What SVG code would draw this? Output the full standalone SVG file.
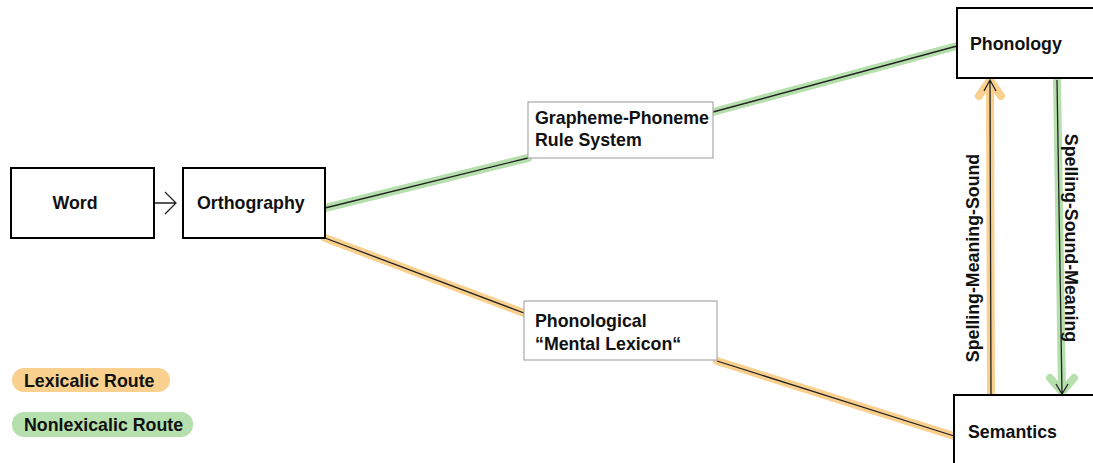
<svg xmlns="http://www.w3.org/2000/svg" width="1093" height="463" viewBox="0 0 1093 463">
<style>
.t{font-family:"Liberation Sans",Arial,sans-serif;font-weight:bold;font-size:17.8px;fill:#111}
.box{fill:#fff;stroke:#000;stroke-width:2}
.gbox{fill:#fff;stroke:#aaa;stroke-width:1.2}
.ho{stroke:#F9D08E;stroke-width:8;stroke-linecap:round;stroke-linejoin:round;fill:none}
.hg{stroke:#B5DFAC;stroke-width:8;stroke-linecap:round;stroke-linejoin:round;fill:none}
.ln{stroke:#222;stroke-width:1.3;fill:none}
</style>
<g id="connectors">
<path class="hg" d="M325,208 L528,158"/><path class="ln" d="M325,208 L528,158"/>
<path class="hg" d="M713,112 L957,46"/><path class="ln" d="M713,112 L957,46"/>
<path class="ho" d="M325,238 L524,313"/><path class="ln" d="M325,238 L524,313"/>
<path class="ho" d="M717,361 L954,436"/><path class="ln" d="M717,361 L954,436"/>
<path class="ho" d="M991,397 L990,80 M979,96 L990,80 L1001,96"/>
<path class="ln" d="M991,397 L990,80 M984,91 L990,80 L996,91"/>
<path class="hg" d="M1057,80 L1062,392 M1050,378 L1062,392 L1074,378"/>
<path class="ln" d="M1057,80 L1062,394 M1056,384 L1062,394 L1068,384"/>
<path class="ln" d="M154,203 L175,203 M165,192 L176,203 L165,214"/>
</g>
<g id="word"><rect class="box" x="11" y="168" width="143" height="70"/><text class="t" x="75" y="209" text-anchor="middle">Word</text></g>
<g id="orthography"><rect class="box" x="183" y="168" width="142" height="70"/><text class="t" x="197" y="209">Orthography</text></g>
<g id="grapheme"><rect class="gbox" x="528" y="102" width="185" height="56"/><text class="t" x="535" y="124">Grapheme-Phoneme</text><text class="t" x="535" y="146">Rule System</text></g>
<g id="lexicon"><rect class="gbox" x="524" y="301" width="193" height="59"/><text class="t" x="535" y="327">Phonological</text><text class="t" x="535" y="350">“Mental Lexicon“</text></g>
<g id="phonology"><rect class="box" x="957" y="8" width="145" height="70"/><text class="t" x="970" y="50">Phonology</text></g>
<g id="semantics"><rect class="box" x="954" y="395" width="148" height="80"/><text class="t" x="968" y="438">Semantics</text></g>
<g id="labels">
<text class="t" transform="translate(979,258) rotate(-90)" text-anchor="middle">Spelling-Meaning-Sound</text>
<text class="t" transform="translate(1065,238) rotate(90)" text-anchor="middle">Spelling-Sound-Meaning</text>
</g>
<g id="legend">
<rect x="12" y="368" width="158" height="24" rx="12" fill="#F9D08E"/><text class="t" x="24" y="387">Lexicalic Route</text>
<rect x="12" y="412" width="181" height="25" rx="12" fill="#B5DFAC"/><text class="t" x="24" y="431">Nonlexicalic Route</text>
</g>
</svg>
